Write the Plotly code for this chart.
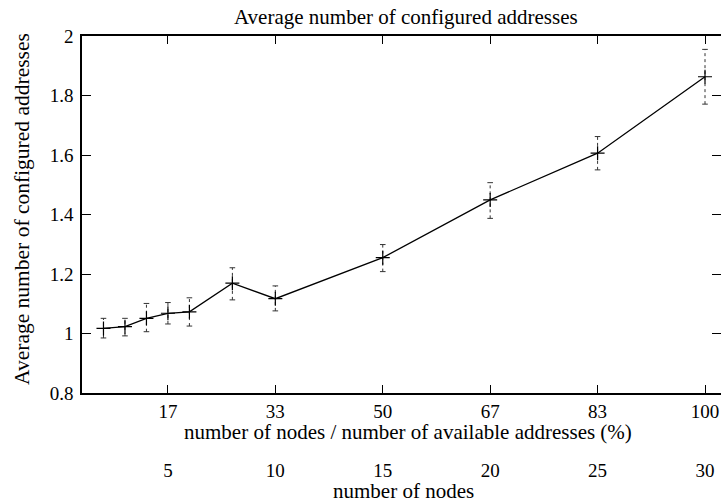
import plotly.graph_objects as go

# data
nodes = [2, 3, 4, 5, 6, 8, 10, 15, 20, 25, 30]
avg_addr = [1.017, 1.023, 1.051, 1.068, 1.073, 1.169, 1.117, 1.255, 1.449, 1.606, 1.863]
err_hi = [1.051, 1.051, 1.101, 1.104, 1.120, 1.221, 1.160, 1.299, 1.507, 1.662, 1.955]
err_lo = [0.985, 0.992, 1.006, 1.032, 1.025, 1.113, 1.076, 1.208, 1.387, 1.550, 1.771]

pct_tick_nodes = [5, 10, 15, 20, 25, 30]
pct_tick_text = ["17", "33", "50", "67", "83", "100"]
node_tick_text = ["5", "10", "15", "20", "25", "30"]
y_tick_vals = [0.8, 1.0, 1.2, 1.4, 1.6, 1.8, 2.0]
y_tick_text = ["0.8", "1", "1.2", "1.4", "1.6", "1.8", "2"]

FONT = "Liberation Serif, Times New Roman, serif"
FS = 19
TFS = 21
XR = [1, 30.745]

# figure geometry in pixels (page body margin removed below)
W, H = 721, 503
L, T = 82, 36
PLOT_BOT = 393
PAPER_BOT = 457
PH = PAPER_BOT - T
PW = W - L

def px_x(fx):
    return (fx - L) / PW

def px_y(fy):
    return (PAPER_BOT - fy) / PH

# error bar segments
ex, ey = [], []
for x, lo, hi in zip(nodes, err_lo, err_hi):
    ex += [x, x, None]
    ey += [lo, hi, None]

fig = go.Figure()
fig.add_trace(go.Scatter(x=ex, y=ey, mode="lines",
                         line=dict(color="#333", width=1, dash="dot"),
                         hoverinfo="skip", showlegend=False))
fig.add_trace(go.Scatter(x=nodes + nodes, y=err_lo + err_hi, mode="markers",
                         marker=dict(symbol="line-ew", size=4, line=dict(color="#333", width=1)),
                         hoverinfo="skip", showlegend=False))
fig.add_trace(go.Scatter(x=nodes, y=avg_addr, mode="lines+markers",
                         line=dict(color="black", width=1.3),
                         marker=dict(symbol="cross-thin", size=10, line=dict(color="black", width=1.2)),
                         showlegend=False))
# invisible trace for second x axis
fig.add_trace(go.Scatter(x=nodes, y=avg_addr, xaxis="x2", mode="markers",
                         marker=dict(opacity=0), hoverinfo="skip", showlegend=False))

ydom0 = (PAPER_BOT - PLOT_BOT) / PH

tfont = dict(family=FONT, size=TFS, color="black")
fig.update_layout(
    width=W, height=H,
    margin=dict(l=L, r=0, t=T, b=H - PAPER_BOT, autoexpand=False),
    paper_bgcolor="white", plot_bgcolor="white",
    font=dict(family=FONT, size=FS, color="black"),
    xaxis=dict(range=XR, tickvals=pct_tick_nodes, ticktext=pct_tick_text,
               ticks="inside", ticklen=8, tickwidth=1.2, tickcolor="black",
               showline=True, linecolor="black", linewidth=1.5, mirror="allticks",
               showgrid=False, zeroline=False, anchor="y", automargin=False,
               ticklabeloverflow="allow", tickfont=dict(family=FONT, size=FS)),
    xaxis2=dict(range=XR, tickvals=pct_tick_nodes, ticktext=node_tick_text,
                overlaying="x", anchor="free", position=0, side="bottom",
                ticks="", showline=False, showgrid=False, zeroline=False, automargin=False,
                ticklabeloverflow="allow", tickfont=dict(family=FONT, size=FS)),
    yaxis=dict(range=[0.8, 2.0], domain=[ydom0, 1], tickvals=y_tick_vals, ticktext=y_tick_text,
               ticks="inside", ticklen=9, tickwidth=1.2, tickcolor="black",
               showline=True, linecolor="black", linewidth=1.5, mirror="ticks",
               showgrid=False, zeroline=False, automargin=False, ticklabelstandoff=3,
               tickfont=dict(family=FONT, size=FS)),
    annotations=[
        dict(text="Average number of configured addresses", xref="paper", yref="paper",
             x=px_x(405.5), y=px_y(17), xanchor="center", yanchor="middle",
             showarrow=False, font=tfont),
        dict(text="number of nodes / number of available addresses (%)", xref="paper", yref="paper",
             x=px_x(408.4), y=px_y(431.5), xanchor="center", yanchor="middle",
             showarrow=False, font=tfont),
        dict(text="number of nodes", xref="paper", yref="paper",
             x=px_x(403), y=px_y(491), xanchor="center", yanchor="middle",
             showarrow=False, font=tfont),
        dict(text="Average number of configured addresses", xref="paper", yref="paper",
             x=px_x(22), y=px_y(209), xanchor="center", yanchor="middle", textangle=-90,
             showarrow=False, font=dict(family=FONT, size=21.5, color="black")),
    ],
)

fig.write_html("out.html", config={"displayModeBar": False},
               post_script="document.body.style.margin='0px';document.body.style.overflow='hidden';")
